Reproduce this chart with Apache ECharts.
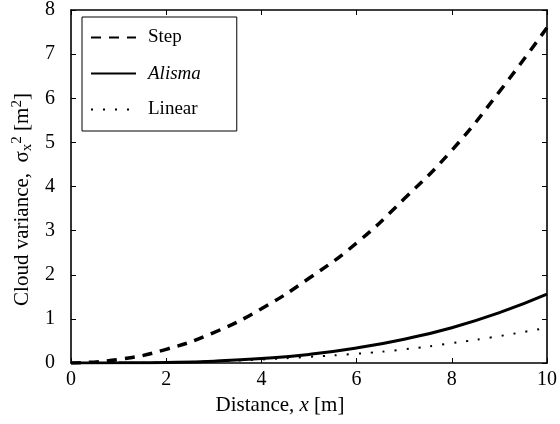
<!DOCTYPE html>
<html>
<head>
<meta charset="utf-8">
<script src="https://cdn.jsdelivr.net/npm/echarts@6/dist/echarts.min.js"></script>
<style>
html,body{margin:0;padding:0;background:#fff;}
#c{width:560px;height:424px;}
</style>
</head>
<body>
<div id="c"></div>
<script>
var distance = [0, 1, 2, 3, 4, 5, 6, 7, 8, 9, 10];
var stepVals = [0, 0.08, 0.31, 0.69, 1.23, 1.92, 2.72, 3.72, 4.82, 6.15, 7.6];
var alismaVals = [0, 0.003, 0.013, 0.042, 0.1, 0.195, 0.34, 0.54, 0.8, 1.14, 1.56];
var linearVals = [0, 0.003, 0.014, 0.04, 0.08, 0.14, 0.21, 0.31, 0.45, 0.61, 0.8];
var xTicks = [0, 2, 4, 6, 8, 10];
var yTicks = [0, 1, 2, 3, 4, 5, 6, 7, 8];

function pairs(ys) { return distance.map(function (x, i) { return [x, ys[i]]; }); }

var FONT = 'Liberation Serif';
function axisCommon() {
  return {
    axisLine: { show: true, onZero: false, lineStyle: { color: '#000', width: 1.6 } },
    axisTick: { show: true, inside: true, length: 5, lineStyle: { color: '#000', width: 1 } },
    splitLine: { show: false }
  };
}

var chart = echarts.init(document.getElementById('c'), null, { renderer: 'canvas' });
chart.setOption({
  animation: false,
  backgroundColor: '#fff',
  grid: { left: 71, right: 11, top: 10, bottom: 61, containLabel: false },
  legend: {
    show: true,
    left: 82, top: 17,
    orient: 'vertical',
    backgroundColor: '#fff',
    borderColor: '#000', borderWidth: 1,
    padding: [11, 36, 12, 8],
    itemWidth: 45, itemHeight: 14, itemGap: 17,
    itemStyle: { opacity: 0 },
    textStyle: { fontFamily: FONT, fontSize: 19, color: '#000', padding: [0, 0, 0, 7],
      rich: { i: { fontFamily: FONT, fontSize: 19, fontStyle: 'italic', color: '#000' } } },
    formatter: function (n) { return n === 'Alisma' ? '{i|Alisma}' : n; },
    data: ['Step', 'Alisma', 'Linear']
  },
  xAxis: [
    Object.assign(axisCommon(), {
      type: 'value', min: 0, max: 10, interval: 2, position: 'bottom',
      axisLabel: { color: '#000', fontFamily: FONT, fontSize: 20, margin: 7,
        customValues: xTicks },
      name: '{n|Distance, }{i|x}{n| [m]}', nameLocation: 'middle', nameGap: 28,
      nameTextStyle: { padding: [0, 58, 0, 0], rich: {
        n: { fontFamily: FONT, fontSize: 21, color: '#000' },
        i: { fontFamily: FONT, fontSize: 21, color: '#000', fontStyle: 'italic' } } }
    }),
    Object.assign(axisCommon(), {
      type: 'value', min: 0, max: 10, interval: 2, position: 'top',
      axisLabel: { show: false }
    })
  ],
  yAxis: [
    Object.assign(axisCommon(), {
      type: 'value', min: 0, max: 8, interval: 1, position: 'left',
      axisLabel: { color: '#000', fontFamily: FONT, fontSize: 20, margin: 16,
        padding: [4, 0, 0, 0], customValues: yTicks },
      name: '{n|Cloud variance,  σ}{sub|x}{sup|2}{n| [m}{sup|2}{n|]}',
      nameLocation: 'middle', nameGap: 27,
      nameTextStyle: { padding: [0, 26, 0, 0], rich: {
        n: { fontFamily: FONT, fontSize: 21, color: '#000' },
        sup: { fontFamily: FONT, fontSize: 15, color: '#000', padding: [0, 0, 11, 0] },
        sub: { fontFamily: FONT, fontSize: 15, color: '#000', padding: [9, 0, 0, 0] } } }
    }),
    Object.assign(axisCommon(), {
      type: 'value', min: 0, max: 8, interval: 1, position: 'right',
      axisLabel: { show: false }
    })
  ],
  series: [
    { name: 'Step', type: 'line', data: pairs(stepVals), smooth: true, symbol: 'none',
      itemStyle: { color: '#000' },
      lineStyle: { color: '#000', width: 3.5, type: [10, 8] }, z: 3 },
    { name: 'Alisma', type: 'line', data: pairs(alismaVals), smooth: true, symbol: 'none',
      itemStyle: { color: '#000' },
      lineStyle: { color: '#000', width: 3, type: 'solid' }, z: 3 },
    { name: 'Linear', type: 'line', data: pairs(linearVals), smooth: true, symbol: 'none',
      itemStyle: { color: '#000' },
      lineStyle: { color: '#000', width: 2, type: [2, 10] }, z: 3 }
  ]
});
</script>
</body>
</html>
